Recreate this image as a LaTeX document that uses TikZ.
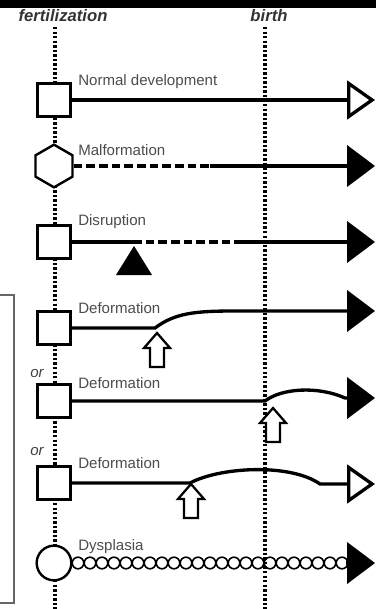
\documentclass[tikz,border=0pt]{standalone}
\usepackage{fontspec}
\setmainfont{Liberation Sans}
\usetikzlibrary{arrows.meta,shapes.geometric}

\begin{document}
\begin{tikzpicture}[x=0.75pt, y=-0.75pt]
  % Styles
  \tikzset{
    ligne/.style={line width=2.5pt},
    tirets/.style={line width=2.5pt, dash pattern=on 6.5pt off 3pt},
    pointille/.style={line width=2.4pt, dash pattern=on 1.8pt off 1.6pt},
    carre/.style={draw, fill=white, line width=2.2pt, minimum size=25pt, inner sep=0pt},
    hexa/.style={draw, fill=white, line width=1.8pt, regular polygon, regular polygon sides=6,
      shape border rotate=30, minimum size=32pt, inner sep=0pt},
    rond/.style={draw, fill=white, line width=1.8pt, circle, minimum size=26pt, inner sep=0pt},
    pleine/.style={-{Triangle[length=21pt, width=31pt]}},
    vide/.style={-{Triangle[open, length=21pt, width=29pt, fill=white]}},
    etiquette/.style={anchor=base west, text=black!70, font=\fontsize{11.3}{13}\selectfont, inner sep=0pt},
    temps/.style={anchor=base, text=black!80, font=\fontsize{12.5}{14}\selectfont\bfseries\itshape, inner sep=0pt},
    ou/.style={anchor=base, text=black!75, font=\fontsize{11.3}{13}\selectfont\itshape, inner sep=0pt},
    poussee/.style={draw, fill=white, line width=1.7pt, line join=miter}
  }

  % Cadre de l'image
  \useasboundingbox (0,0) rectangle (376,609);
  \fill (0,0) rectangle (376,8);

  % Repères temporels
  \node[temps] (fert) at (63,22) {fertilization};
  \node[temps] (nais) at (269,22) {birth};
  \draw[pointille] (55,27) -- (55,609);
  \draw[pointille] (265,27) -- (265,609);

  % Accolade à gauche
  \draw[black!60, line width=0.8pt] (0,295) -- (14,295) -- (14,603) -- (0,603);

  % --- Développement normal ---
  \node[carre] (sq1) at (54,100) {};
  \coordinate (f1) at (375,100);
  \draw[ligne, vide] (sq1.east) -- (f1);
  \node[etiquette] (l1) at (78,85.5) {Normal development};

  % --- Malformation ---
  \node[hexa] (hex) at (54,166) {};
  \coordinate (m2) at (210,166);
  \coordinate (f2) at (375,166);
  \draw[tirets] (hex.east) -- (m2);
  \draw[ligne, pleine] (m2) -- (f2);
  \node[etiquette] (l2) at (78,155.5) {Malformation};

  % --- Disruption ---
  \node[carre] (sq3) at (54,242) {};
  \coordinate (a3) at (133,242);
  \coordinate (b3) at (240,242);
  \coordinate (f3) at (375,242);
  \draw[ligne] (sq3.east) -- (a3);
  \draw[tirets] (a3) -- (b3);
  \draw[ligne, pleine] (b3) -- (f3);
  \fill (134,246) -- (152,275) -- (116,275) -- cycle;
  \node[etiquette] (l3) at (78,226) {Disruption};

  % --- Déformation (avant la naissance) ---
  \node[carre] (sq4) at (54,328) {};
  \coordinate (f4) at (375,311);
  \draw[ligne, pleine] (sq4.east) -- (155,328) .. controls (175,313) and (195,311) .. (235,311) -- (f4);
  \draw[poussee] (157,333) -- ++(13,15) -- ++(-6,0) -- ++(0,19) -- ++(-14,0) -- ++(0,-19) -- ++(-6,0) -- cycle;
  \node[etiquette] (l4) at (78,313.5) {Deformation};
  \node[ou] (ou1) at (37,377) {or};

  % --- Déformation (après la naissance) ---
  \node[carre] (sq5) at (54,401) {};
  \coordinate (f5) at (375,398);
  \draw[ligne, pleine] (sq5.east) -- (265,401) .. controls (282,388) and (318,386) .. (345,398) -- (f5);
  \draw[poussee] (273,408) -- ++(13,15) -- ++(-6,0) -- ++(0,19) -- ++(-14,0) -- ++(0,-19) -- ++(-6,0) -- cycle;
  \node[etiquette] (l5) at (78,388.5) {Deformation};
  \node[ou] (ou2) at (37,455) {or};

  % --- Déformation (transitoire) ---
  \node[carre] (sq6) at (54,483) {};
  \coordinate (f6) at (375,484);
  \draw[ligne, vide] (sq6.east) -- (190,483) .. controls (220,467) and (290,463) .. (320,484) -- (f6);
  \draw[poussee] (191,484) -- ++(13,15) -- ++(-6,0) -- ++(0,19) -- ++(-14,0) -- ++(0,-19) -- ++(-6,0) -- cycle;
  \node[etiquette] (l6) at (78,468.5) {Deformation};

  % --- Dysplasie ---
  \node[rond] (cercle) at (54,563) {};
  \foreach \x in {78,90,...,342}
    \draw[line width=1.2pt] (\x,563) circle[radius=5.8];
  \coordinate (e7) at (346,563);
  \coordinate (f7) at (375,563);
  \draw[ligne, pleine] (e7) -- (f7);
  \node[etiquette] (l7) at (78,550.5) {Dysplasia};

\end{tikzpicture}
\end{document}
